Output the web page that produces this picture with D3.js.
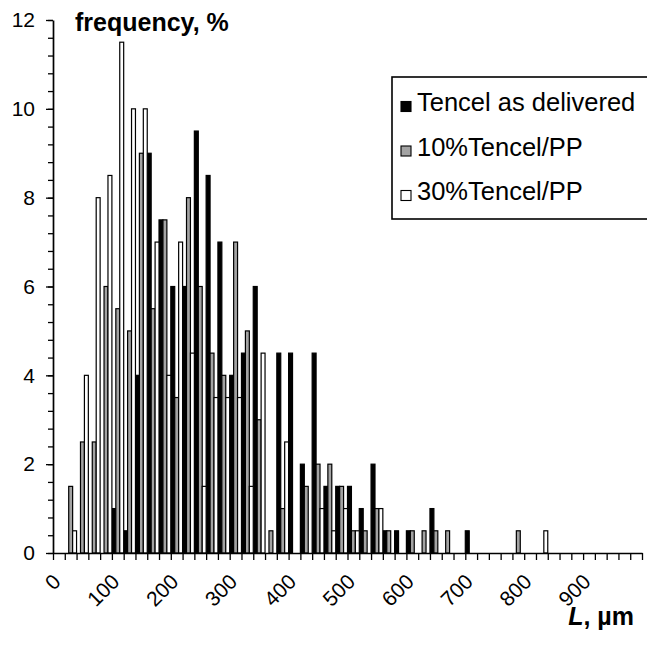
<!DOCTYPE html>
<html><head><meta charset="utf-8">
<script src="https://cdn.jsdelivr.net/npm/d3@7"></script>
<style>
body{margin:0;background:#fff}
svg{display:block}
text{font-family:"Liberation Sans",Arial,Helvetica,sans-serif;fill:#000}
</style>
</head><body>
<svg id="chart" width="647" height="645"></svg>
<script>
// Category lower bounds (µm), 20 µm bins
const categories = [0,20,40,60,80,100,120,140,160,180,200,220,240,260,280,300,320,340,360,380,
  400,420,440,460,480,500,520,540,560,580,600,620,640,660,680,700,720,740,760,780,
  800,820,840,860,880,900,920,940,960,980];
const tickLabels = ["0","100","200","300","400","500","600","700","800","900"];
const yTickValues = [0,2,4,6,8,10,12];
const seriesNames = ["Tencel as delivered","10%Tencel/PP","30%Tencel/PP"];

const tencelDelivered = [0,0,0,0,0,1,0.5,4,9,7.5,6,6,9.5,8.5,7,4,4.5,6,0,4.5,
  4.5,2,4.5,1.5,1.5,1.5,1,2,0.5,0.5,0.5,0,1,0,0,0.5,0,0,0,0,
  0,0,0,0,0,0,0,0,0,0];
const tencelPP10 = [0,1.5,2.5,2.5,6,5.5,5,9,5.5,7.5,3.5,8,6,4.5,4,7,5,3,0.5,1,
  0,1.5,2,2,1.5,0.5,0.5,1,0.5,0,0.5,0.5,0.5,0.5,0,0,0,0,0,0.5,
  0,0,0,0,0,0,0,0,0,0];
const tencelPP30 = [0,0.5,4,8,8.5,11.5,10,10,7,4,7,4.5,1.5,3.5,3.5,3.5,1.5,4.5,0,2.5,
  0,0,1,0.5,1,0.5,0,1,0,0,0,0,0,0,0,0,0,0,0,0,
  0,0.5,0,0,0,0,0,0,0,0];

const seriesValues = [tencelDelivered, tencelPP10, tencelPP30];
const seriesFill = ["#000000","#a3a3a3","#ffffff"];

const svg = d3.select("#chart");
const plot = {left:53, right:642, top:20, bottom:553};

const x = d3.scaleBand().domain(categories).range([plot.left, plot.right]).padding(0);
const xs = d3.scaleBand().domain(seriesNames).range([0, x.bandwidth()]).padding(0);
const y = d3.scaleLinear().domain([0,12]).range([plot.bottom, plot.top]);
const xb = d3.scaleLinear().domain([0, categories.length]).range([plot.left, plot.right]);

// bars
seriesNames.forEach((name, si) => {
  const data = categories.map((c, i) => ({c, v: seriesValues[si][i]})).filter(d => d.v > 0);
  svg.append("g").selectAll("rect").data(data).join("rect")
    .attr("x", d => x(d.c) + xs(name))
    .attr("y", d => y(d.v))
    .attr("width", xs.bandwidth())
    .attr("height", d => y(0) - y(d.v))
    .attr("fill", seriesFill[si])
    .attr("stroke", "#000")
    .attr("stroke-width", 1.2);
});

// y axis minor ticks
const minor = d3.range(0, 12.001, 0.4);
svg.append("g").attr("transform", `translate(${plot.left},0)`)
  .call(d3.axisLeft(y).tickValues(minor).tickSize(5).tickFormat(""))
  .call(g => g.select(".domain").remove())
  .selectAll("line").attr("stroke", "#000").attr("stroke-width", 1.3);

// y axis major
const yAxis = svg.append("g").attr("transform", `translate(${plot.left},0)`)
  .call(d3.axisLeft(y).tickValues(yTickValues).tickSize(7).tickSizeOuter(0).tickPadding(11).tickFormat(d3.format("d")));
yAxis.select(".domain").attr("stroke", "#000").attr("stroke-width", 1.7);
yAxis.selectAll("line").attr("stroke", "#000").attr("stroke-width", 1.3);
yAxis.selectAll("text").style("font-size", "21px").attr("fill", "#000");

// x axis with ticks at category boundaries
const xAxis = svg.append("g").attr("transform", `translate(0,${plot.bottom})`)
  .call(d3.axisBottom(xb).tickValues(d3.range(0, categories.length + 1)).tickSize(7).tickSizeOuter(0).tickFormat(""));
xAxis.select(".domain").attr("stroke", "#000").attr("stroke-width", 1.7);
xAxis.selectAll("line").attr("stroke", "#000").attr("stroke-width", 1.3);

// rotated category labels
const labeled = categories.filter(c => tickLabels.includes(String(c)));
svg.append("g").selectAll("text").data(labeled).join("text")
  .attr("transform", d => `translate(${x(d) + x.bandwidth()/2 + 3},583) rotate(-45)`)
  .attr("text-anchor", "end")
  .style("font-size", "21px")
  .text(d => tickLabels[tickLabels.indexOf(String(d))]);

// axis titles
svg.append("text").attr("x", 75).attr("y", 31)
  .style("font-size", "25px").style("font-weight", "bold").text("frequency, %");
const xt = svg.append("text").attr("x", 634).attr("y", 625).attr("text-anchor", "end")
  .style("font-size", "25px").style("font-weight", "bold");
xt.append("tspan").style("font-style", "italic").text("L");
xt.append("tspan").text(", µm");

// legend
const lg = svg.append("g");
lg.append("rect").attr("x", 392).attr("y", 77).attr("width", 262).attr("height", 142)
  .attr("fill", "#fff").attr("stroke", "#000").attr("stroke-width", 1.6);
const ly = d3.scalePoint().domain(seriesNames).range([106.5, 195.5]);
seriesNames.forEach((name, si) => {
  lg.append("rect").attr("x", 401).attr("y", ly(name) - 5).attr("width", 10).attr("height", 10)
    .attr("fill", seriesFill[si]).attr("stroke", "#000").attr("stroke-width", 1.1);
  lg.append("text").attr("x", 417).attr("y", ly(name) + 4.5)
    .style("font-size", "25.5px").text(name);
});
</script>
</body></html>
